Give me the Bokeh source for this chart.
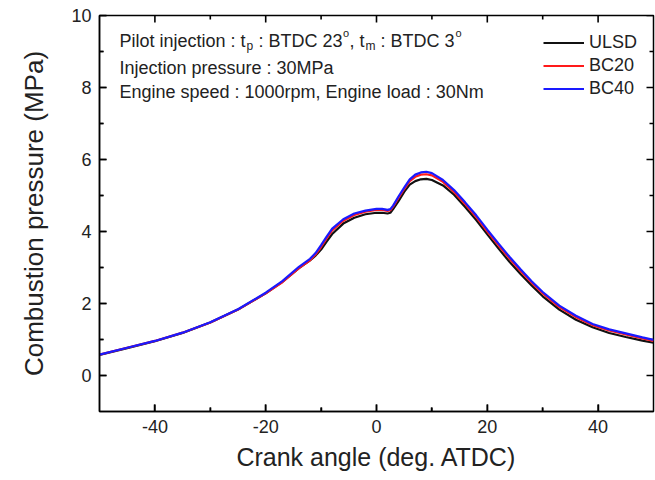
from bokeh.plotting import figure
from bokeh.models import (Range1d, FixedTicker, Legend, LegendItem,
                          Label, ColumnDataSource)
from bokeh.embed import file_html
from bokeh.resources import INLINE

# Crank angle (deg. ATDC)
crank_angle = [-50, -45, -40, -35, -30, -25, -20, -17, -14, -12, -11, -10, -9, -8,
               -6, -4, -2, 0, 1, 2, 2.5, 3, 4, 5, 6, 7, 8, 9, 10, 12, 14, 16, 18,
               20, 22, 24, 26, 28, 30, 33, 36, 39, 42, 45, 48, 50]

# Combustion pressure (MPa) for each fuel
p_ulsd = [0.57, 0.76, 0.95, 1.18, 1.47, 1.83, 2.28, 2.60, 2.98, 3.20, 3.33, 3.50, 3.72, 3.93,
          4.22, 4.38, 4.48, 4.52, 4.52, 4.50, 4.52, 4.62, 4.85, 5.10, 5.30, 5.40, 5.45, 5.46,
          5.43, 5.28, 5.02, 4.68, 4.32, 3.92, 3.53, 3.16, 2.82, 2.50, 2.20, 1.83, 1.55,
          1.34, 1.18, 1.07, 0.97, 0.91]
p_bc20 = [0.58, 0.77, 0.96, 1.19, 1.47, 1.83, 2.28, 2.59, 2.98, 3.20, 3.36, 3.57, 3.81, 4.03,
          4.30, 4.46, 4.55, 4.60, 4.60, 4.57, 4.59, 4.69, 4.94, 5.18, 5.40, 5.52, 5.58, 5.59,
          5.56, 5.38, 5.10, 4.76, 4.40, 4.00, 3.62, 3.25, 2.90, 2.58, 2.28, 1.90, 1.62,
          1.40, 1.25, 1.14, 1.03, 0.96]
p_bc40 = [0.58, 0.77, 0.96, 1.19, 1.48, 1.84, 2.30, 2.62, 3.02, 3.24, 3.40, 3.62, 3.86, 4.08,
          4.34, 4.50, 4.58, 4.63, 4.63, 4.60, 4.62, 4.72, 4.98, 5.22, 5.45, 5.58, 5.64, 5.66,
          5.62, 5.43, 5.15, 4.81, 4.45, 4.05, 3.67, 3.30, 2.95, 2.62, 2.32, 1.94, 1.66,
          1.43, 1.28, 1.17, 1.06, 0.99]

series_names = ["ULSD", "BC20", "BC40"]
series_colors = ["#111111", "#ff1a1a", "#1a1aff"]

x_ticks = [-40, -20, 0, 20, 40]
x_minor = [-30, -10, 10, 30]
y_ticks = [0, 2, 4, 6, 8, 10]
y_minor = [1, 3, 5, 7, 9]

X_LO, X_HI = -50, 50
Y_LO, Y_HI = -1, 10

W, H = 655, 480
LEFT, RIGHT, TOP, BOTTOM = 99, 2, 15, 69
FRAME_W = W - LEFT - RIGHT
FRAME_H = H - TOP - BOTTOM

FONT = "Liberation Sans"
TXT = "#222222"

p = figure(width=W, height=H, output_backend="svg", toolbar_location=None,
           x_range=Range1d(X_LO, X_HI), y_range=Range1d(Y_LO, Y_HI),
           min_border_left=LEFT, min_border_right=RIGHT, min_border_top=TOP,
           min_border_bottom=BOTTOM)
p.grid.visible = False
p.outline_line_color = "black"
p.outline_line_width = 1.5
p.background_fill_color = "white"
p.border_fill_color = "white"


def style_axis(ax, ticks, minor):
    ax.ticker = FixedTicker(ticks=ticks, minor_ticks=minor)
    ax.major_label_overrides = {t: str(t) for t in ticks}   # plain hyphen minus
    ax.axis_line_color = "black"
    ax.axis_line_width = 1.5
    ax.major_tick_line_color = "black"
    ax.major_tick_line_width = 1.5
    ax.minor_tick_line_color = "black"
    ax.minor_tick_line_width = 1.5
    ax.major_tick_in = 7
    ax.major_tick_out = 0
    ax.minor_tick_in = 4
    ax.minor_tick_out = 0
    ax.major_label_text_font = FONT
    ax.major_label_text_font_size = "18px"
    ax.major_label_text_color = TXT
    ax.axis_label_text_font = FONT
    ax.axis_label_text_font_style = "normal"
    ax.axis_label_text_color = TXT


xa = p.xaxis[0]
style_axis(xa, x_ticks, x_minor)
xa.axis_label = "Crank angle (deg. ATDC)"
xa.axis_label_text_font_size = "25px"
xa.major_label_standoff = 8
xa.axis_label_standoff = 7

ya = p.yaxis[0]
style_axis(ya, y_ticks, y_minor)
ya.axis_label = "Combustion pressure (MPa)"
ya.axis_label_text_font_size = "26px"
ya.major_label_standoff = 8
ya.axis_label_standoff = 19

# Inward tick marks on the top and right frame sides (mirroring the axes),
# drawn as one broken polyline with NaN gaps
x_per_px = (X_HI - X_LO) / FRAME_W
y_per_px = (Y_HI - Y_LO) / FRAME_H
nan = float("nan")
tick_x, tick_y = [], []
for ticks, length in ((x_ticks, 7), (x_minor, 4)):
    d = length * y_per_px
    for t in ticks:
        tick_x += [t, t, nan, t, t, nan]
        tick_y += [Y_LO, Y_LO + d, nan, Y_HI, Y_HI - d, nan]
for ticks, length in ((y_ticks, 7), (y_minor, 4)):
    d = length * x_per_px
    for t in ticks:
        tick_x += [X_LO, X_LO + d, nan, X_HI, X_HI - d, nan]
        tick_y += [t, t, nan, t, t, nan]
p.line(tick_x, tick_y, line_color="black", line_width=1.6)

renderers = []
for name, ys, col in zip(series_names, [p_ulsd, p_bc20, p_bc40], series_colors):
    src = ColumnDataSource(dict(x=crank_angle, y=ys))
    r = p.line("x", "y", source=src, line_color=col, line_width=2.2)
    renderers.append(r)

legend = Legend(items=[LegendItem(label=n, renderers=[r]) for n, r in zip(series_names, renderers)],
                location=(444, 311), orientation="vertical",
                glyph_width=41, glyph_height=23, label_height=23, label_standoff=5,
                spacing=0, padding=0, margin=0,
                label_text_font=FONT, label_text_font_size="18px", label_text_color=TXT,
                border_line_color=None, background_fill_alpha=0)
p.add_layout(legend)

# Test-condition note in the upper left corner; pieces are positioned by pixel offset
x0 = -46.4
row1, row2, row3 = 9.28, 8.55, 7.88
note_pieces = [
    # (text, y, x_offset, y_offset, size)
    ("Pilot injection : t", row1, 0, 0, "18px"),
    ("p", row1, 127, -5, "12px"),
    (": BTDC 23", row1, 139, 0, "18px"),
    ("o", row1, 223.5, 8, "11px"),
    (", t", row1, 230, 0, "18px"),
    ("m", row1, 246, -5, "12px"),
    (": BTDC 3", row1, 261, 0, "18px"),
    ("o", row1, 336, 8, "11px"),
    ("Injection pressure : 30MPa", row2, 0, 0, "18px"),
    ("Engine speed : 1000rpm, Engine load : 30Nm", row3, 0, 0, "18px"),
]
for txt, yv, dx, dy, size in note_pieces:
    p.add_layout(Label(x=x0, y=yv, x_offset=dx, y_offset=dy, text=txt,
                       text_font=FONT, text_font_size=size, text_color=TXT,
                       text_baseline="alphabetic", text_align="left"))

open("out.html", "w").write(file_html(p, INLINE))
